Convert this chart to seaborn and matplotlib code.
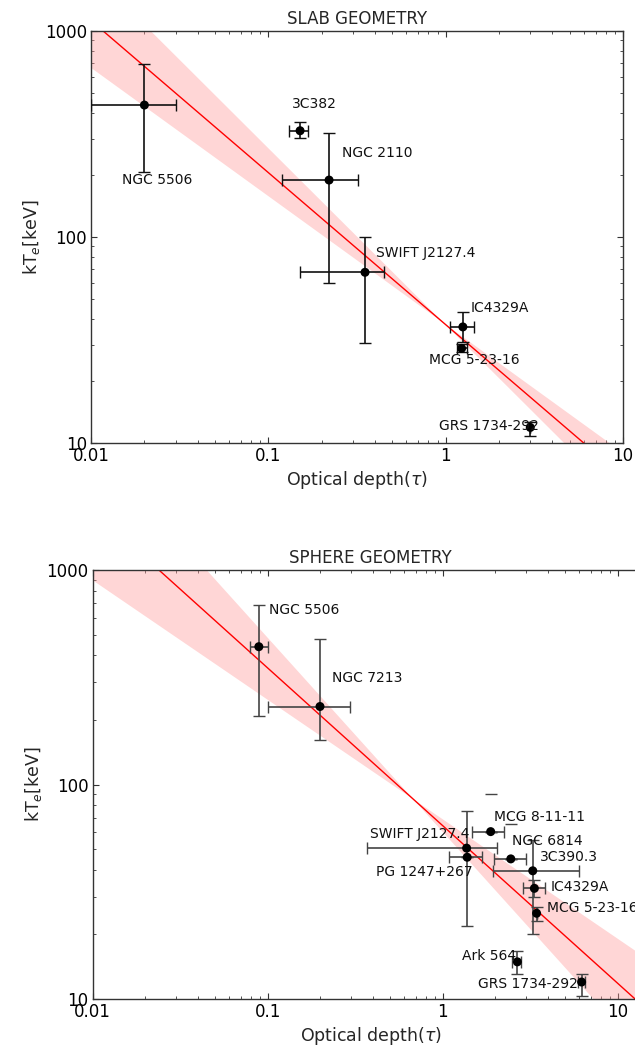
import numpy as np
import pandas as pd
import matplotlib
matplotlib.use("Agg")
import matplotlib.pyplot as plt
import seaborn as sns

# ---------------- data: SLAB geometry ----------------
slab_names = ["NGC 5506", "3C382", "NGC 2110", "SWIFT J2127.4", "IC4329A", "MCG 5-23-16", "GRS 1734-292"]
slab_tau = [0.020, 0.151, 0.22, 0.351, 1.25, 1.23, 3.0]
slab_tau_lo = [0.010, 0.130, 0.12, 0.150, 1.06, 1.16, 3.0]
slab_tau_hi = [0.030, 0.168, 0.319, 0.45, 1.45, 1.32, 3.0]
slab_kT = [437, 328, 189, 67.4, 36.6, 28.8, 11.9]
slab_kT_lo = [207, 301, 60, 30.7, 31.0, 27.6, 10.8]
slab_kT_hi = [689, 360, 319, 100, 43.4, 30.2, 12.6]
slab_lab_tau = [0.0236, 0.183, 0.41, 0.773, 2.03, 1.456, 1.76]
slab_lab_kT = [189, 442, 256, 83.3, 45, 25.3, 12.1]
# fit (power law through pivot) and bow-tie band slopes
slab_pivot_tau, slab_pivot_kT = 0.97, 38.4
slab_slope, slab_slope_a, slab_slope_b = -0.738, -0.858, -0.623

# ---------------- data: SPHERE geometry ----------------
sph_names = ["NGC 5506", "NGC 7213", "MCG 8-11-11", "SWIFT J2127.4", "NGC 6814", "3C390.3",
             "PG 1247+267", "IC4329A", "MCG 5-23-16", "Ark 564", "GRS 1734-292"]
sph_tau = [0.089, 0.199, 1.88, 1.37, 2.45, 3.27, 1.38, 3.34, 3.44, 2.67, 6.22]
sph_tau_lo = [0.079, 0.100, 1.48, 0.368, 1.96, 1.95, 1.08, 2.86, 3.44, 2.48, 5.96]
sph_tau_hi = [0.100, 0.295, 2.24, 2.04, 2.98, 6.0, 1.67, 3.85, 3.44, 2.82, 6.5]
sph_kT = [439, 231, 60.3, 50.5, 45.0, 39.6, 45.8, 32.8, 25.1, 14.9, 12.0]
sph_kT_lo = [209, 161, 60.3, 22.0, 45.0, 20.0, 45.8, 30.0, 23.2, 13.1, 10.3]
sph_kT_hi = [687, 477, 60.3, 75.5, 45.0, 55.0, 45.8, 35.9, 26.9, 16.7, 13.1]
# detached upper caps (no visible bar)
sph_cap_tau = [1.88, 2.45]
sph_cap_kT = [60.3, 45.0]
sph_cap_up = [90.3, 65.5]
sph_lab_tau = [0.161, 0.372, 3.56, 0.735, 3.97, 5.28, 0.780, 6.1, 3.93, 1.83, 3.05]
sph_lab_kT = [651, 315, 70.8, 58.8, 54.7, 45.7, 39.2, 33.4, 26.7, 15.9, 11.8]
sph_lab_ha = ["center"] * 8 + ["left", "center", "center"]
sph_pivot_tau, sph_pivot_kT = 0.673, 86.0
sph_slope, sph_slope_a, sph_slope_b = -0.735, -0.905, -0.557

xticks_top = [0.01, 0.1, 1, 10]
xticklabels_top = ["0.01", "0.1", "1", "10"]
yticks = [10, 100, 1000]
yticklabels = ["10", "100", "1000"]

sns.set_style("ticks")
plt.rcParams.update({
    "font.family": ["DejaVu Sans"],
    "xtick.direction": "in", "ytick.direction": "in",
    "xtick.top": True, "ytick.right": True,
    "xtick.major.size": 4.5, "ytick.major.size": 4.5,
    "xtick.minor.size": 2.2, "ytick.minor.size": 2.2,
    "xtick.major.width": 0.8, "ytick.major.width": 0.8,
    "xtick.minor.width": 0.6, "ytick.minor.width": 0.6,
    "xtick.color": "#333333", "ytick.color": "#333333",
    "xtick.labelcolor": "black", "ytick.labelcolor": "black",
    "axes.edgecolor": "#333333", "axes.linewidth": 1.0,
})

W, H = 635, 1047
fig = plt.figure(figsize=(W / 100, H / 100), dpi=100)

def make_panel(rect, xlim, title, tau, tlo, thi, kT, klo, khi, names, ltau, lkT, has,
               pivot_tau, pivot_kT, slope, sa, sb, ecol):
    ax = fig.add_axes(rect)
    ax.set_xscale("log"); ax.set_yscale("log")
    ax.set_xlim(*xlim); ax.set_ylim(10, 1000)
    grid = np.logspace(np.log10(xlim[0]), np.log10(xlim[1]), 300)
    fit = pivot_kT * (grid / pivot_tau) ** slope
    la = pivot_kT * (grid / pivot_tau) ** sa
    lb = pivot_kT * (grid / pivot_tau) ** sb
    ax.fill_between(grid, np.minimum(la, lb), np.maximum(la, lb), color="#ff9999",
                    alpha=0.4, linewidth=0.0, zorder=1)
    sns.lineplot(x=grid, y=fit, ax=ax, color="red", linewidth=1.0, zorder=2)
    tau = np.array(tau); kT = np.array(kT)
    xerr = [tau - np.array(tlo), np.array(thi) - tau]
    yerr = [kT - np.array(klo), np.array(khi) - kT]
    ax.errorbar(tau, kT, xerr=xerr, yerr=yerr, fmt="none", ecolor=ecol,
                elinewidth=1.2, capsize=4, capthick=1.0, zorder=3)
    df = pd.DataFrame({"tau": tau, "kT": kT})
    sns.scatterplot(data=df, x="tau", y="kT", ax=ax, color="black", s=42,
                    edgecolor="none", zorder=4)
    for n, x, y, ha in zip(names, ltau, lkT, has):
        ax.text(x, y, n, ha=ha, va="center", fontsize=10, color="#111111", zorder=5)
    ax.set_title(title, fontsize=12, pad=5)
    ax.set_xlabel(r"Optical depth($\tau$)", fontsize=12.5, labelpad=3)
    ax.set_ylabel(r"kT$_e$[keV]", fontsize=12.5, labelpad=2)
    ax.set_xticks(xticks_top); ax.set_xticklabels(xticklabels_top, fontsize=12)
    ax.set_yticks(yticks); ax.set_yticklabels(yticklabels, fontsize=12)
    ax.minorticks_on()
    ax.tick_params(which="both", pad=3)
    ax.set_xlim(*xlim); ax.set_ylim(10, 1000)
    return ax

ax1 = make_panel([91 / W, 1 - 443 / H, 532 / W, 412 / H], (0.01, 10), "SLAB GEOMETRY",
                 slab_tau, slab_tau_lo, slab_tau_hi, slab_kT, slab_kT_lo, slab_kT_hi,
                 slab_names, slab_lab_tau, slab_lab_kT, ["center"] * len(slab_names),
                 slab_pivot_tau, slab_pivot_kT, slab_slope, slab_slope_a, slab_slope_b, "#111111")

sph_w = 175 * (np.log10(15) + 2)
ax2 = make_panel([92.7 / W, 1 - 999 / H, sph_w / W, 429 / H], (0.01, 15), "SPHERE GEOMETRY",
                 sph_tau, sph_tau_lo, sph_tau_hi, sph_kT, sph_kT_lo, sph_kT_hi,
                 sph_names, sph_lab_tau, sph_lab_kT, sph_lab_ha,
                 sph_pivot_tau, sph_pivot_kT, sph_slope, sph_slope_a, sph_slope_b, "#444444")
cap_kT = np.array(sph_cap_kT)
ax2.errorbar(sph_cap_tau, cap_kT, yerr=[np.zeros_like(cap_kT), np.array(sph_cap_up) - cap_kT],
             fmt="none", ecolor="#444444", elinewidth=0, capsize=4, capthick=1.0, zorder=3)

fig.savefig("out.png", dpi=100)
